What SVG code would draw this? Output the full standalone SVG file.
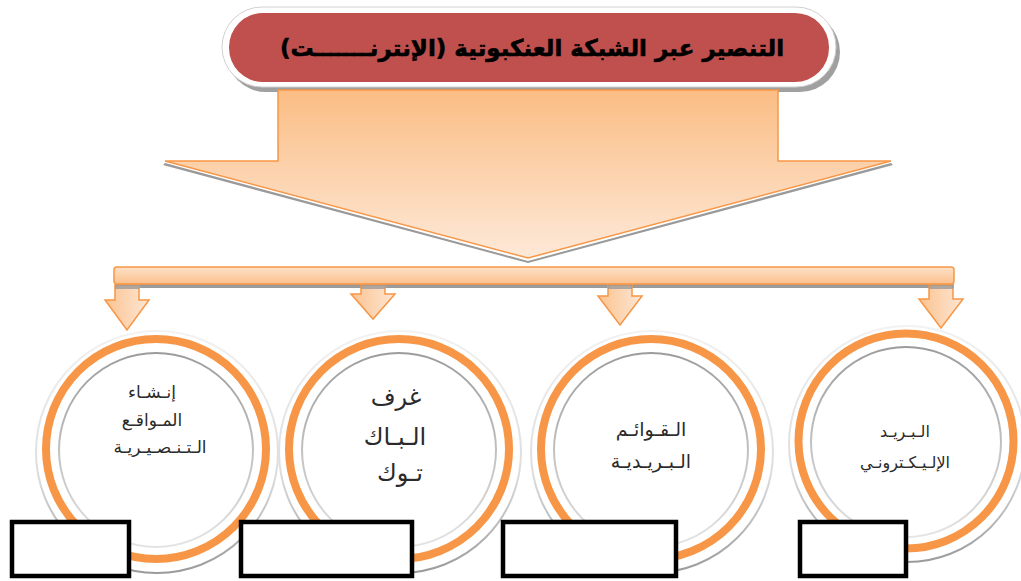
<svg xmlns="http://www.w3.org/2000/svg" width="1021" height="581" viewBox="0 0 1021 581">
<defs>
<linearGradient id="gBig" x1="0" y1="0" x2="0" y2="1">
<stop offset="0" stop-color="#fbbd84"/>
<stop offset="1" stop-color="#fde9d8"/>
</linearGradient>
<linearGradient id="gBar" x1="0" y1="0" x2="0" y2="1">
<stop offset="0" stop-color="#fde1c8"/>
<stop offset="1" stop-color="#fbc08c"/>
</linearGradient>
<linearGradient id="gSmall" x1="0" y1="0" x2="1" y2="0">
<stop offset="0" stop-color="#fbc390"/>
<stop offset="1" stop-color="#fde6d3"/>
</linearGradient>
<linearGradient id="gOuter" x1="0" y1="0" x2="0" y2="1">
<stop offset="0" stop-color="#f2f2f2"/>
<stop offset="0.6" stop-color="#dcdcdc"/>
<stop offset="1" stop-color="#9a9a9a"/>
</linearGradient>
<linearGradient id="gInner" x1="0" y1="0" x2="0" y2="1">
<stop offset="0" stop-color="#9c9c9c"/>
<stop offset="1" stop-color="#e4e4e4"/>
</linearGradient>
</defs>
<style>
.shadow{fill:#9a9a9a}
.arrow{stroke:#f79646;stroke-width:1.5;stroke-linejoin:miter}
.ring{fill:#fff;stroke:#f79646;stroke-width:8}
.outer{fill:none;stroke:url(#gOuter);stroke-width:2}
.inner{fill:none;stroke:url(#gInner);stroke-width:2}
.box{fill:#fff;stroke:#000;stroke-width:4.5}
.lbl{font-family:"DejaVu Sans",sans-serif;fill:#2a2a2a;text-anchor:middle;direction:rtl}
.title{font-family:"DejaVu Sans",sans-serif;font-weight:bold;font-size:23px;fill:#000;stroke:#000;stroke-width:0.6;text-anchor:middle;direction:rtl}
</style>

<g id="title-node">
<rect x="226" y="12" width="614" height="80" rx="40" fill="#a0a0a0"/>
<rect x="222" y="7" width="614" height="80" rx="40" fill="#fff" stroke="#d0d0d0" stroke-width="1"/>
<rect x="229" y="13" width="600" height="69" rx="34" fill="#c0504d"/>
<text class="title" x="532" y="56">التنصير عبر الشبكة العنكبوتية (الإنترنـــــــت)</text>
</g>

<g id="connectors">
<path class="shadow" d="M165,163 L528,261 L891,163 L893,165 L528,263 L163,165 Z"/>
<path class="arrow" fill="url(#gBig)" d="M278,90 L778,90 L778,161 L891,161 L528,258 L165,161 L278,161 Z"/>
<rect class="shadow" x="115" y="284" width="839" height="4"/>
<rect class="arrow" fill="url(#gBar)" x="114" y="267" width="840" height="17" rx="3"/>
<path class="arrow" fill="url(#gSmall)" d="M115,285 L139,285 L139,300 L149,300 L127,330 L105,300 L115,300 Z"/>
<path class="arrow" fill="url(#gSmall)" d="M361,285 L385,285 L385,294 L395,294 L373,319 L351,294 L361,294 Z"/>
<path class="arrow" fill="url(#gSmall)" d="M608,285 L632,285 L632,296 L642,296 L620,325 L598,296 L608,296 Z"/>
<path class="arrow" fill="url(#gSmall)" d="M929,285 L953,285 L953,299 L963,299 L941,328 L919,299 L929,299 Z"/>
<rect x="115" y="285" width="24" height="4" fill="#9a9a9a" opacity="0.8"/>
<rect x="361" y="285" width="24" height="4" fill="#9a9a9a" opacity="0.8"/>
<rect x="608" y="285" width="24" height="4" fill="#9a9a9a" opacity="0.8"/>
<rect x="929" y="285" width="24" height="4" fill="#9a9a9a" opacity="0.8"/>
</g>

<g id="node-sites">
<circle class="outer" cx="157" cy="452" r="121"/>
<circle class="ring" cx="156" cy="449" r="110"/>
<circle class="inner" cx="156" cy="450" r="97"/>
<text class="lbl" font-size="17" x="152" y="398">إنـشـاء</text>
<text class="lbl" font-size="17" x="152" y="426">المـواقـع</text>
<text class="lbl" font-size="17" x="160" y="453">الـتـنـصـيـريـة</text>
</g>

<g id="node-paltalk">
<circle class="outer" cx="400" cy="452" r="121"/>
<circle class="ring" cx="399" cy="449" r="110"/>
<circle class="inner" cx="399" cy="450" r="97"/>
<text class="lbl" font-size="24" x="396" y="405">غرف</text>
<text class="lbl" font-size="24" x="395" y="445">الـبـاك</text>
<text class="lbl" font-size="24" x="400" y="481">تـوك</text>
</g>

<g id="node-lists">
<circle class="outer" cx="652" cy="452" r="121"/>
<circle class="ring" cx="651" cy="449" r="110"/>
<circle class="inner" cx="651" cy="450" r="97"/>
<text class="lbl" font-size="19" x="651" y="436">الـقـوائـم</text>
<text class="lbl" font-size="19" x="651" y="468">الـبـريـديـة</text>
</g>

<g id="node-email">
<circle class="outer" cx="907" cy="444" r="118"/>
<circle class="ring" cx="906" cy="441" r="107.5"/>
<circle class="inner" cx="906" cy="442" r="95"/>
<text class="lbl" font-size="16" x="905" y="437">الـبـريـد</text>
<text class="lbl" font-size="16" x="905" y="468">الإلـيـكـترونـي</text>
</g>

<g id="boxes">
<rect class="box" x="12" y="522" width="117" height="54"/>
<rect class="box" x="241" y="522" width="171" height="54"/>
<rect class="box" x="503" y="522" width="173" height="54"/>
<rect class="box" x="800" y="522" width="106" height="54"/>
</g>
</svg>
